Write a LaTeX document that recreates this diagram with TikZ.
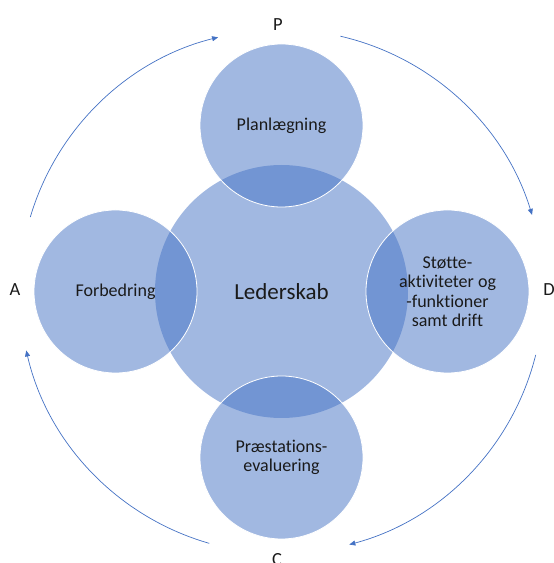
\documentclass[tikz,border=0pt]{standalone}
\usepackage{fontspec}
\setmainfont{Carlito}[Ligatures=NoCommon]
\usetikzlibrary{arrows.meta,calc}
\definecolor{accent}{HTML}{4472C4}
\definecolor{ink}{HTML}{1A1A1A}
\begin{document}
\begin{tikzpicture}[x=1pt,y=1pt,
  bubble/.style={circle, fill=accent, fill opacity=0.5, draw=white, draw opacity=1, line width=0.8pt,
    text opacity=1, minimum size=163pt, inner sep=0pt, align=center, text=ink,
    font=\fontsize{18}{19.5}\selectfont},
  core/.style={bubble, draw=none, minimum size=253pt, font=\fontsize{23}{27}\selectfont},
  letter/.style={text=ink, inner sep=0pt, font=\fontsize{18.5}{20}\selectfont},
  cyc/.style={draw=accent, line width=0.7pt, -{Triangle[length=6pt,width=5pt]}}]
\useasboundingbox (0,0) rectangle (554,563);
\coordinate (O) at (281.5,271.5);
\node[core] (lead) at (O) {Lederskab};
\node[bubble] (plan) at (281.5,437.5) {Planlægning};
\node[bubble] (act) at (115.5,271.5) {Forbedring};
\node[bubble] (do) at (447.5,271.5) {Støtte-\\aktiviteter og\\-funktioner\\samt drift};
\node[bubble] (check) at (281.5,105.5) {Præstations-\\evaluering};
\node[letter] (P) at (278,538) {P};
\node[letter] (D) at (549,273) {D};
\node[letter] (C) at (277,3) {C};
\node[letter] (A) at (15,273) {A};
\coordinate (a1) at ($(O)+(163.5:262)$);
\coordinate (a2) at ($(O)+(77:262)$);
\coordinate (a3) at ($(O)+(-14:262)$);
\coordinate (a4) at ($(O)+(-106:262)$);
\draw[cyc] (a1) arc[start angle=163.5, end angle=104, radius=262];
\draw[cyc] (a2) arc[start angle=77, end angle=17, radius=262];
\draw[cyc] (a3) arc[start angle=-14, end angle=-75, radius=262];
\draw[cyc] (a4) arc[start angle=-106, end angle=-167, radius=262];
\end{tikzpicture}
\end{document}
